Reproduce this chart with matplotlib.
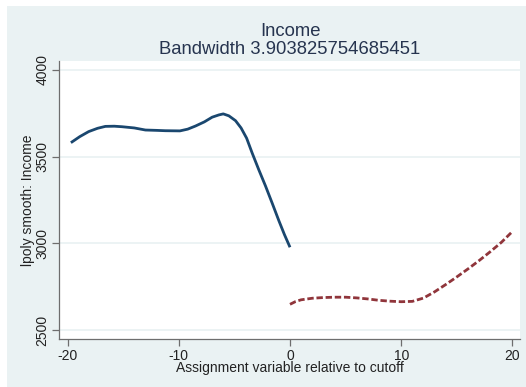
"""
Local polynomial smooth of income on each side of the cutoff.
"""

import matplotlib
matplotlib.use("Agg")
import matplotlib.pyplot as plt
from matplotlib.patches import Rectangle

plt.rcParams["font.family"] = ["Liberation Sans", "DejaVu Sans"]
plt.rcParams["axes.unicode_minus"] = False

# smoothed income, left of cutoff
x_left = [-19.7, -18.9, -18.1, -17.3, -16.6, -15.8, -15.1, -14.0, -13.0, -12.0,
          -11.2, -9.9, -9.2, -8.5, -7.7, -7.0, -6.4, -6.0, -5.5, -4.9,
          -4.4, -3.9, -3.4, -2.8, -2.2, -1.6, -1.0, -0.5, 0.0]
y_left = [3580, 3615, 3644, 3663, 3674, 3675, 3672, 3665, 3653, 3651,
          3649, 3648, 3658, 3676, 3700, 3727, 3740, 3746, 3735, 3707,
          3665, 3606, 3520, 3423, 3330, 3231, 3130, 3050, 2977]

# smoothed income, right of cutoff
x_right = [0.0, 0.5, 1.0, 2.0, 3.0, 4.0, 5.0, 6.0, 7.0, 8.0, 9.0, 10.0,
           11.0, 12.0, 13.0, 14.0, 15.0, 16.0, 17.0, 18.0, 19.0, 20.0]
y_right = [2648, 2664, 2674, 2683, 2687, 2689, 2689, 2685, 2679, 2671, 2666, 2663,
           2665, 2684, 2720, 2762, 2806, 2852, 2900, 2951, 3005, 3068]

x_ticks = [-20, -10, 0, 10, 20]
y_ticks = [2500, 3000, 3500, 4000]

BG = "#eaf2f3"
NAVY = "#1a476f"
MAROON = "#90353b"
AXIS = "#6e6e6e"

fig = plt.figure(figsize=(5.26, 3.87), dpi=100, facecolor="white")
backdrop = Rectangle((7 / 526, 0), 1, 1 - 6 / 387, transform=fig.transFigure,
                     facecolor=BG, edgecolor="none", zorder=-10)
fig.add_artist(backdrop)

ax = fig.add_axes([59 / 526, 1 - 339 / 387, (520 - 59) / 526, (339 - 61) / 387])
ax.set_zorder(1)
ax.set_facecolor("white")

ax.plot(x_left, y_left, color=NAVY, lw=2.0, solid_capstyle="butt", zorder=3)
ax.plot(x_right, y_right, color=MAROON, lw=2.0, linestyle=(0, (2.3, 1.0)), zorder=3)

ax.set_xlim(-20.77, 20.68)
ax.set_ylim(2448, 4051)
ax.set_xticks(x_ticks)
ax.set_yticks(y_ticks)
ax.set_yticklabels([str(v) for v in y_ticks], rotation=90, va="center")

for y in y_ticks:
    ax.axhline(y, color=BG, lw=1.3, zorder=1)

for side in ("top", "right"):
    ax.spines[side].set_visible(False)
for side in ("left", "bottom"):
    ax.spines[side].set_color(AXIS)
    ax.spines[side].set_linewidth(0.9)

ax.tick_params(axis="both", direction="out", length=5, width=0.9, color=AXIS,
               labelsize=10, labelcolor="#222222", pad=2)

ax.set_xlabel("Assignment variable relative to cutoff", fontsize=10,
              color="#222222", labelpad=-1)
ax.set_ylabel("lpoly smooth: Income", fontsize=10, color="#222222", labelpad=0)

fig.text(290 / 526, 1 - 32 / 387, "Income", ha="center", va="center",
         fontsize=13.3, color="#26344f")
fig.text(290 / 526, 1 - 49 / 387, "Bandwidth 3.903825754685451", ha="center",
         va="center", fontsize=13.3, color="#26344f")

fig.savefig("out.png", dpi=100, facecolor=fig.get_facecolor())
